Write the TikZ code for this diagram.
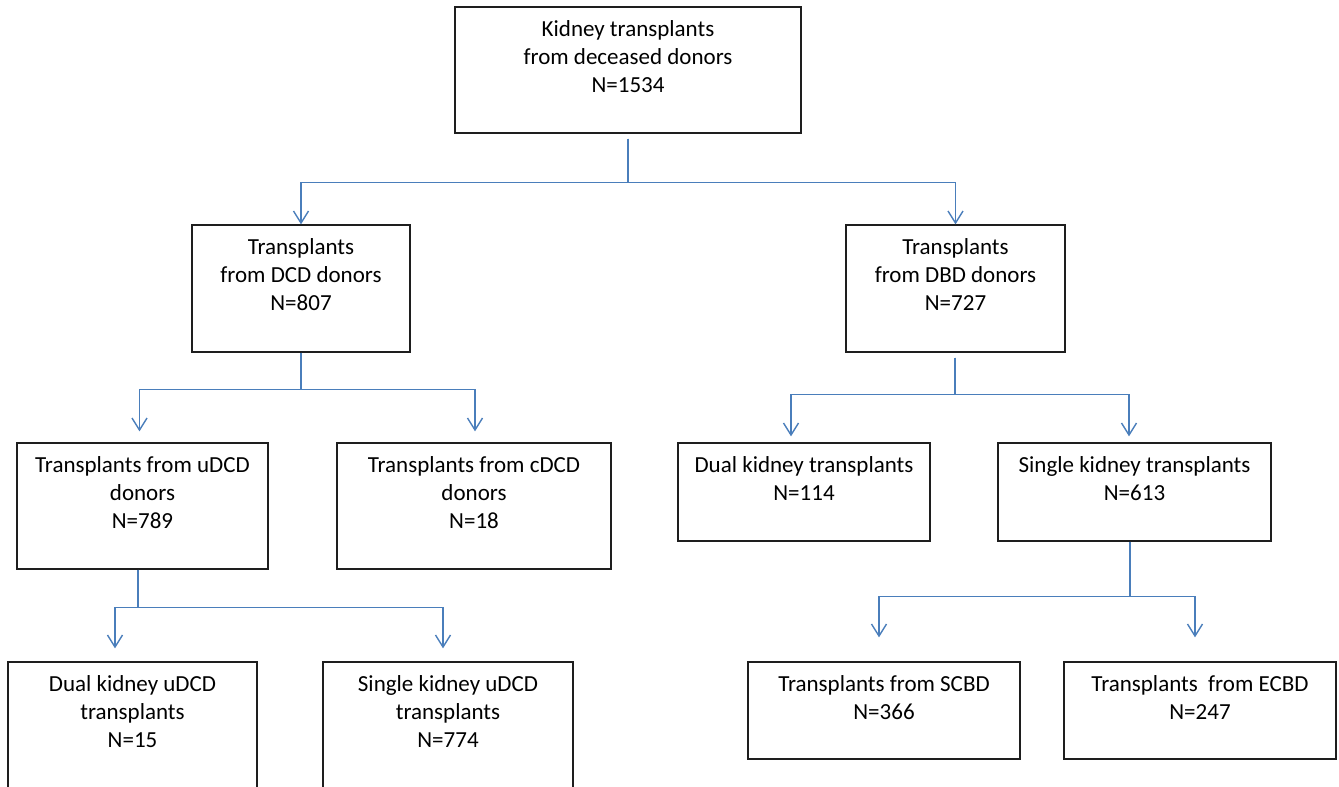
\documentclass[tikz,border=0pt]{standalone}
\usepackage{fontspec}
\setmainfont{Carlito}
\usetikzlibrary{arrows.meta}
\definecolor{linkblue}{RGB}{74,126,187}
\definecolor{boxline}{RGB}{30,30,30}
\newcommand\tstr{\rule{0pt}{20pt}}
\begin{document}
\begin{tikzpicture}[x=1pt,y=-1pt,
  bx/.style={draw=boxline, line width=1.3pt, inner sep=0pt, fill=none},
  txt/.style={anchor=north, inner sep=0pt, align=center, font=\fontsize{23}{27.8}\selectfont, yshift=-10pt},
  link/.style={draw=linkblue, line width=1.4pt},
  arr/.style={link, -{Straight Barb[length=12pt,width=15pt,line width=1.4pt]}}]
\useasboundingbox (0,0) rectangle (1339,787);
\fill[white] (0,0) rectangle (1339,787);
% boxes
\node[bx, minimum width=346, minimum height=126] (top) at (628,70) {};
\node[bx, minimum width=218, minimum height=127] (dcd) at (301,288.5) {};
\node[bx, minimum width=219, minimum height=127] (dbd) at (955.5,288.5) {};
\node[bx, minimum width=251, minimum height=126] (udcd) at (142.5,506) {};
\node[bx, minimum width=274, minimum height=126] (cdcd) at (474,506) {};
\node[bx, minimum width=252, minimum height=98] (dual) at (804,492) {};
\node[bx, minimum width=273, minimum height=98] (single) at (1134.5,492) {};
\node[bx, minimum width=249, minimum height=138] (dualu) at (132.5,731) {};
\node[bx, minimum width=250, minimum height=138] (singleu) at (448,731) {};
\node[bx, minimum width=272, minimum height=97] (scbd) at (884,710.5) {};
\node[bx, minimum width=272, minimum height=97] (ecbd) at (1200,710.5) {};
% texts
\node[txt] (ttop) at (top.north) {\tstr Kidney transplants\\from deceased donors\\N=1534};
\node[txt] (tdcd) at (dcd.north) {\tstr Transplants\\from DCD donors\\N=807};
\node[txt] (tdbd) at (dbd.north) {\tstr Transplants\\from DBD donors\\N=727};
\node[txt] (tudcd) at (udcd.north) {\tstr Transplants from uDCD\\donors\\N=789};
\node[txt] (tcdcd) at (cdcd.north) {\tstr Transplants from cDCD\\donors\\N=18};
\node[txt] (tdual) at (dual.north) {\tstr Dual kidney transplants\\N=114};
\node[txt] (tsingle) at (single.north) {\tstr Single kidney transplants\\N=613};
\node[txt] (tdualu) at (dualu.north) {\tstr Dual\ kidney uDCD\\transplants\\N=15};
\node[txt] (tsingleu) at (singleu.north) {\tstr Single kidney uDCD\\transplants\\N=774};
\node[txt] (tscbd) at (scbd.north) {\tstr Transplants from SCBD\\N=366};
\node[txt] (tecbd) at (ecbd.north) {\tstr Transplants\ \ from ECBD\\N=247};
% connectors
\draw[arr] ([yshift=-5pt]top.south) -- ++(0,44) -| (dcd.north);
\draw[arr] ([yshift=-5pt]top.south) -- ++(0,44) -| (dbd.north);
\draw[arr] (dcd.south) -- ++(0,37) -| ([xshift=-3pt,yshift=11pt]udcd.north);
\draw[arr] (dcd.south) -- ++(0,37) -| ([xshift=1pt,yshift=11pt]cdcd.north);
\draw[arr] ([xshift=-0.5pt,yshift=-5pt]dbd.south) -- ++(0,37) -| ([xshift=-13pt,yshift=6pt]dual.north);
\draw[arr] ([xshift=-0.5pt,yshift=-5pt]dbd.south) -- ++(0,37) -| ([xshift=-5.5pt,yshift=6pt]single.north);
\draw[arr] ([xshift=-4.5pt]udcd.south) -- ++(0,38) -| ([xshift=-17.5pt,yshift=13pt]dualu.north);
\draw[arr] ([xshift=-4.5pt]udcd.south) -- ++(0,38) -| ([xshift=-5pt,yshift=13pt]singleu.north);
\draw[arr] ([xshift=-4.5pt]single.south) -- ++(0,55) -| ([xshift=-5pt,yshift=24pt]scbd.north);
\draw[arr] ([xshift=-4.5pt]single.south) -- ++(0,55) -| ([xshift=-5pt,yshift=24pt]ecbd.north);
\end{tikzpicture}
\end{document}
